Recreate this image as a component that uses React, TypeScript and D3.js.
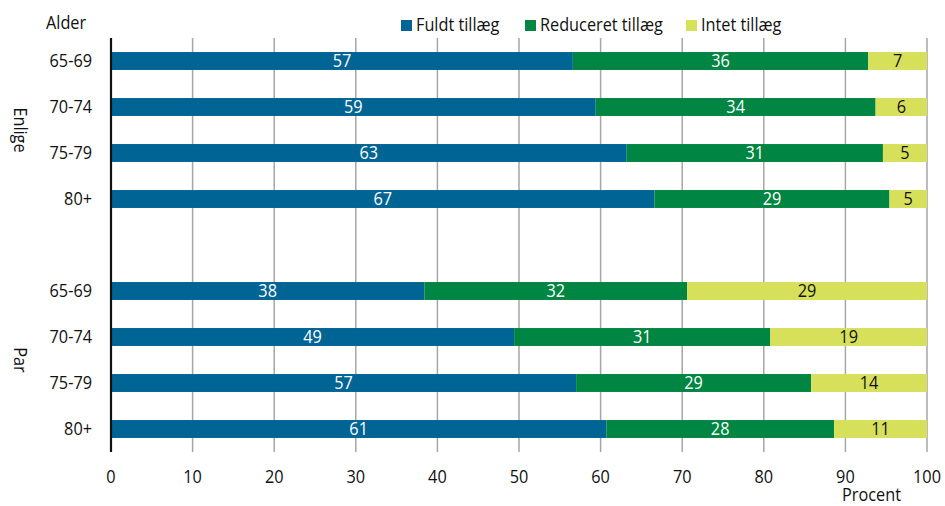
import * as d3 from 'd3'

// Data (shares in percent; labels are the rounded values)
const groups = ['Enlige', 'Par']
const ages = ['65-69', '70-74', '75-79', '80+']
const fuldt = [56.6, 59.4, 63.2, 66.6, 38.4, 49.4, 57.0, 60.7]
const reduceret = [36.2, 34.3, 31.4, 28.8, 32.2, 31.4, 28.8, 27.9]
const intet = [7.2, 6.3, 5.4, 4.6, 29.4, 19.2, 14.2, 11.4]
const seriesNames = ['Fuldt tillæg', 'Reduceret tillæg', 'Intet tillæg']
const xTicks = [0, 10, 20, 30, 40, 50, 60, 70, 80, 90, 100]

const COLORS = ['#006494', '#008542', '#d7e05a']
const TEXT_COLORS = ['#ffffff', '#ffffff', '#111111']
const FONT = '"Open Sans", sans-serif'
const FS = 18.5
const SQUEEZE = 0.88

const W = 945
const H = 506
const PAD = { top: 38, left: 111, right: 18, bottom: 54 }

// narrow-looking text: regular font squeezed horizontally
function Label({ x, y, anchor = 'start', fill = '#111', rotate = 0, baseline, children }: any) {
  return (
    <text
      transform={`translate(${x},${y}) rotate(${rotate}) scale(${SQUEEZE},1)`}
      textAnchor={anchor} dominantBaseline={baseline}
      fontSize={FS} fill={fill}
    >{children}</text>
  )
}

export default function App() {
  // 4 rows for Enlige, a blank slot, 4 rows for Par
  const rows = [
    ...ages.map((a, i) => ({ key: `e${i}`, age: a, idx: i })),
    { key: 'gap', age: '', idx: -1 },
    ...ages.map((a, i) => ({ key: `p${i}`, age: a, idx: i + 4 })),
  ]

  const innerW = W - PAD.left - PAD.right
  const innerH = H - PAD.top - PAD.bottom

  const x = d3.scaleLinear().domain([0, 100]).range([0, innerW])
  const y = d3.scaleBand().domain(rows.map(r => r.key)).range([0, innerH]).paddingInner(0.61).paddingOuter(0.305)

  const table = fuldt.map((f, i) => ({ i, v: [f, reduceret[i], intet[i]] }))
  const stack = d3.stack<{ i: number; v: number[] }>()
    .keys(['0', '1', '2'])
    .value((d, k) => d.v[+k])
  const stacked = stack(table)

  const rowKey = (i: number) => (i < 4 ? `e${i}` : `p${i - 4}`)
  const bw = y.bandwidth()

  const groupCenter = (keys: string[]) => {
    const ys = keys.map(k => (y(k) ?? 0) + bw / 2)
    return (ys[0] + ys[ys.length - 1]) / 2
  }

  const legendX = [401, 525, 686]

  return (
    <svg width={W} height={H} style={{ position: 'absolute', left: 0, top: 0 }} fontFamily={FONT}>
      <rect width={W} height={H} fill="#fff" />

      {/* Legend */}
      {seriesNames.map((s, i) => (
        <g key={s} transform={`translate(${legendX[i]},20)`}>
          <rect width={11} height={11} fill={COLORS[i]} />
          <Label x={15} y={11}>{s}</Label>
        </g>
      ))}

      <Label x={46} y={29}>Alder</Label>

      <g transform={`translate(${PAD.left},${PAD.top})`}>
        {/* Grid */}
        {xTicks.filter(t => t > 0).map(t => (
          <line key={t} x1={x(t)} x2={x(t)} y1={0} y2={innerH} stroke="#a6a6a6" strokeWidth={1.5} />
        ))}

        {/* Bars */}
        {stacked.map((layer, si) => (
          <g key={si}>
            {layer.map((d, j) => {
              const ry = y(rowKey(j)) ?? 0
              return (
                <g key={j}>
                  <rect x={x(d[0])} y={ry} width={x(d[1]) - x(d[0])} height={bw} fill={COLORS[si]} />
                  <Label x={(x(d[0]) + x(d[1])) / 2} y={ry + bw / 2 + 1} anchor="middle" baseline="middle" fill={TEXT_COLORS[si]}>
                    {Math.round(d[1] - d[0])}
                  </Label>
                </g>
              )
            })}
          </g>
        ))}

        {/* Zero axis */}
        <line x1={0} x2={0} y1={0} y2={innerH} stroke="#111" strokeWidth={2.2} />

        {/* Row labels */}
        {rows.filter(r => r.idx >= 0).map(r => (
          <Label key={r.key} x={-19} y={(y(r.key) ?? 0) + bw / 2 + 1} anchor="end" baseline="middle">{r.age}</Label>
        ))}

        {/* Group labels */}
        {groups.map((g, gi) => {
          const cy = groupCenter(ages.map((_, i) => (gi === 0 ? `e${i}` : `p${i}`)))
          return (
            <Label key={g} x={-92} y={cy} rotate={90} anchor="middle" baseline="middle">{g}</Label>
          )
        })}

        {/* X tick labels */}
        {xTicks.map(t => (
          <Label key={t} x={x(t)} y={innerH + 31} anchor="middle">{t}</Label>
        ))}
        <Label x={x(93.2)} y={innerH + 49} anchor="middle">Procent</Label>
      </g>
    </svg>
  )
}
